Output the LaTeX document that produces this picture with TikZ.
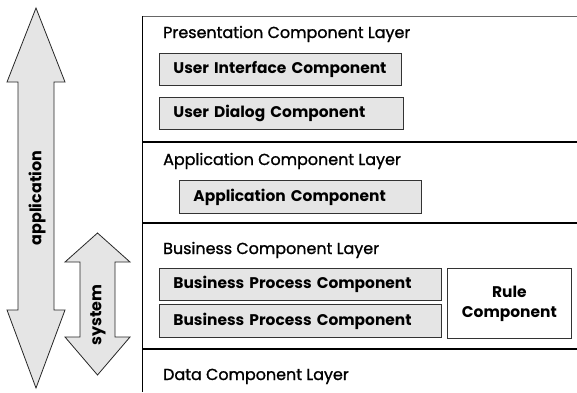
\documentclass[tikz,border=0pt]{standalone}
\usepackage{fontspec}
\newfontfamily\gothic{Poppins}
\newfontfamily\gothicmed{Poppins}[FakeBold=1.2]
\usetikzlibrary{positioning}
\definecolor{boxgray}{gray}{0.9}
\tikzset{
  comp/.style={draw=black!80, fill=boxgray, line width=0.8pt, anchor=north west,
    inner xsep=14bp, inner ysep=0pt, align=left,
    font=\gothic\bfseries\fontsize{15.5}{19}\selectfont},
  layer/.style={anchor=base west, inner sep=0pt, font=\gothicmed\fontsize{16}{19}\selectfont},
  bigarrow/.style={draw=black!85, fill=boxgray, line width=0.8pt, line join=miter},
  divider/.style={line width=1.5pt},
}
\begin{document}
\begin{tikzpicture}[x=1bp, y=-1bp]
			%%%%% START %%%%%
			\useasboundingbox (0,0) rectangle (577,392);
			
			% big arrows
			\draw[bigarrow] (36,8) -- (65,82) -- (54,82) -- (54,310) -- (65,310) -- (36,388) -- (7,310) -- (18,310) -- (18,82) -- (7,82) -- cycle;
			\node[rotate=90, font=\gothic\bfseries\fontsize{16}{19}\selectfont] (app) at (37,198) {application};
			
			\draw[bigarrow] (97.5,233) -- (130,262) -- (115,262) -- (115,337) -- (130,337) -- (97.5,375) -- (65,337) -- (80,337) -- (80,262) -- (65,262) -- cycle;
			\node[rotate=90, font=\gothic\bfseries\fontsize{16}{19}\selectfont] (sys) at (98,315) {system};
			
			% frame and layers
			\draw[line width=0.8pt, color=black!60] (142,16) -- (577,16);
			\draw[line width=1pt] (142,16) -- (142,392);
			\draw[divider] (142,142) -- (577,142);
			\draw[divider] (142,223) -- (577,223);
			\draw[divider] (142,349) -- (577,349);
			
			\node[layer] (pres) at (163,38) {Presentation Component Layer};
			\node[layer] (appl) at (163,165) {Application Component Layer};
			\node[layer] (bus) at (163,254) {Business Component Layer};
			\node[layer] (data) at (163,380) {Data Component Layer};
			
			% components
			\node[comp, text width=214bp, minimum height=32bp] (ui) at (159,53) {User Interface Component};
			\node[comp, text width=216bp, minimum height=32bp] (dialog) at (159,97) {User Dialog Component};
			\node[comp, text width=214bp, minimum height=33bp] (appc) at (179,180) {Application Component};
			\node[comp, text width=254bp, minimum height=32bp] (bp1) at (159,268) {Business Process Component};
			\node[comp, text width=254bp, minimum height=33bp] (bp2) at (159,304) {Business Process Component};
			\node[comp, fill=white, align=center, inner xsep=0pt, text width=124bp, minimum height=70bp, font=\gothic\bfseries\fontsize{15.5}{20}\selectfont] (rule) at (447,268) {Rule\\Component\\[10bp]};
			
			%%%%% END %%%%%
		\end{tikzpicture}
\end{document}
